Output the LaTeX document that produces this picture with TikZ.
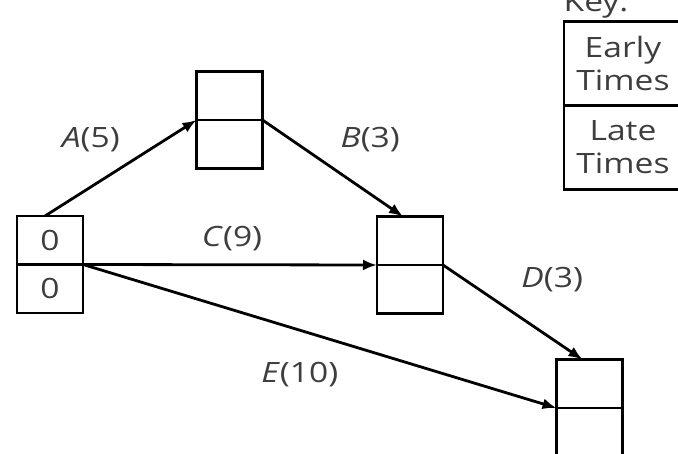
\documentclass[tikz,border=0pt]{standalone}
\usepackage{fontspec}
\setmainfont{Open Sans}[FakeStretch=1.2]
\usetikzlibrary{arrows.meta,positioning}
\definecolor{labelgray}{RGB}{62,62,62}

\begin{document}
\begin{tikzpicture}[x=1pt, y=-1pt, >={Latex[length=14pt,width=11pt]}, line width=2.8pt, node distance=0pt]
  \tikzstyle{half} = [rectangle, draw, inner sep=0pt, outer sep=0pt, minimum width=66pt, minimum height=48.5pt,
    font=\fontsize{28}{30}\selectfont, text=labelgray]
  \tikzstyle{keyhalf} = [rectangle, draw, inner sep=0pt, outer sep=0pt, minimum width=118pt, minimum height=84pt,
    align=center, font=\fontsize{28}{33}\selectfont, text=labelgray]
  \tikzstyle{activity} = [font=\fontsize{28}{30}\selectfont, text=labelgray]

  \useasboundingbox (0,0) rectangle (678,454);
  \clip (0,0) rectangle (678,454);

  % events
  \node[half] (ev1) at (50,240.25) {0};
  \node[half] (ev1low) [below=of ev1] {0};
  \node[half] (ev2) at (229.5,95.75) {};
  \node[half] (ev2low) [below=of ev2] {};
  \node[half] (ev3) at (410,240.75) {};
  \node[half] (ev3low) [below=of ev3] {};
  \node[half] (ev4) at (589.5,383.75) {};
  \node[half] (ev4low) [below=of ev4] {};

  % key
  \node[activity, anchor=base] (keylabel) at (596,12) {Key:};
  \node[keyhalf] (early) at (623,63.5) {Early\\Times};
  \node[keyhalf] (late) [below=of early] {Late\\Times};

  % activities
  \draw[->] ([xshift=-5pt]ev1.north) -- (ev2.south west)
    node[activity, pos=0.5, xshift=-30pt, yshift=28pt] {\textit{A}(5)};
  \draw[->] (ev2.south east) -- ([xshift=-7pt]ev3.north)
    node[activity, pos=0.5, xshift=37.5pt, yshift=28.5pt] {\textit{B}(3)};
  \draw[->] (ev1.south east) -- (ev3.south west)
    node[activity, pos=0.5, xshift=2pt, yshift=26.5pt] {\textit{C}(9)};
  \draw[->] (ev3.south east) -- ([xshift=-7pt]ev4.north)
    node[activity, pos=0.5, xshift=39.5pt, yshift=32.5pt] {\textit{D}(3)};
  \draw[->] (ev1.south east) -- (ev4.south west)
    node[activity, pos=0.5, xshift=-20pt, yshift=-38pt] {\textit{E}(10)};
\end{tikzpicture}
\end{document}
